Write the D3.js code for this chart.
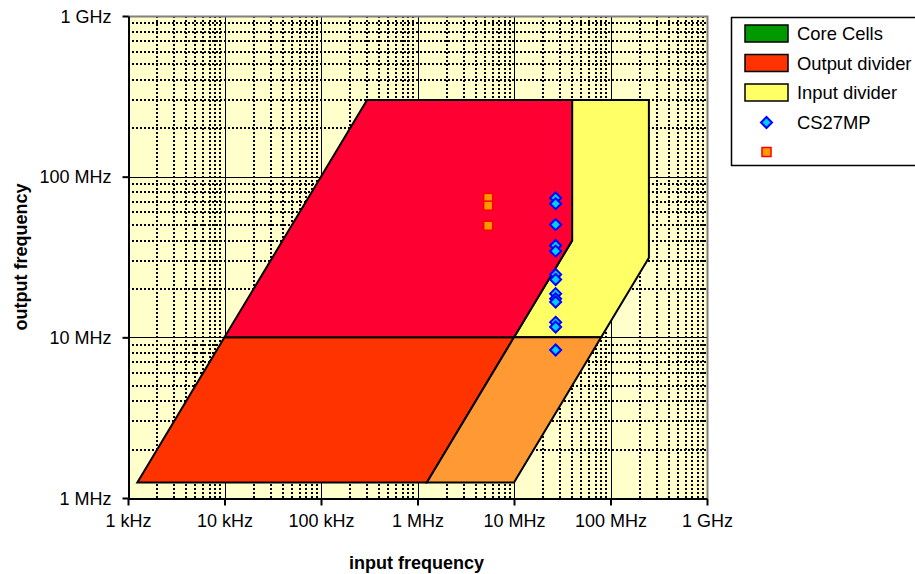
<!DOCTYPE html>
<html>
<head>
<meta charset="utf-8">
<script src="https://cdn.jsdelivr.net/npm/d3@7"></script>
<style>
  body { margin: 0; background: #fff; }
  text { font-family: "Liberation Sans", Arial, sans-serif; fill: #000; }
</style>
</head>
<body>
<svg id="chart" width="915" height="574"></svg>
<script>
// tick values and labels
var xTicks = [1e3, 1e4, 1e5, 1e6, 1e7, 1e8, 1e9];
var xTickLabels = ["1 kHz", "10 kHz", "100 kHz", "1 MHz", "10 MHz", "100 MHz", "1 GHz"];
var yTicks = [1e6, 1e7, 1e8, 1e9];
var yTickLabels = ["1 MHz", "10 MHz", "100 MHz", "1 GHz"];

// regions as [input frequency, output frequency] corners
var inputDivider = [[4e7, 3e8], [2.5e8, 3e8], [2.5e8, 3.125e7], [8e7, 1e7], [1e7, 1e7], [4e7, 4e7]];
var outputDivider = [[1.25e3, 1.25e6], [1e4, 1e7], [1e7, 1e7], [1.25e6, 1.25e6]];
var bothDividers = [[1e7, 1e7], [8e7, 1e7], [1e7, 1.25e6], [1.25e6, 1.25e6]];
var coreCells = [[1e4, 1e7], [3e5, 3e8], [4e7, 3e8], [4e7, 4e7], [1e7, 1e7]];

// CS27MP measured points
var cs27Input = 27e6;
var cs27Output = [73.7e6, 67.9e6, 50.3e6, 37.3e6, 34.4e6, 24.6e6, 22.9e6, 18.7e6, 17.4e6, 16.6e6, 12.4e6, 11.6e6, 8.34e6];
// second (unnamed) series
var otherInput = 5.4e6;
var otherOutput = [73.7e6, 66e6, 49.5e6];

var legendNames = ["Core Cells", "Output divider", "Input divider", "CS27MP", ""];

var plotLeft = 128, plotRight = 707, plotTop = 16, plotBottom = 498;

var svg = d3.select("#chart");

var x = d3.scaleLog().domain([1e3, 1e9]).range([plotLeft, plotRight]);
var y = d3.scaleLog().domain([1e6, 1e9]).range([plotBottom, plotTop]);

svg.append("rect")
  .attr("x", plotLeft)
  .attr("y", plotTop)
  .attr("width", plotRight - plotLeft)
  .attr("height", plotBottom - plotTop)
  .style("fill", "#ffffcc");

// minor grid (dotted)
var xMinor = x.ticks().filter(function(d) { return xTicks.indexOf(d) < 0; });
var yMinor = y.ticks().filter(function(d) { return yTicks.indexOf(d) < 0; });

svg.selectAll(".xminor")
  .data(xMinor)
  .enter().append("line")
  .attr("x1", function(d) { return Math.round(x(d)); })
  .attr("x2", function(d) { return Math.round(x(d)); })
  .attr("y1", plotTop)
  .attr("y2", plotBottom)
  .attr("stroke", "#000")
  .attr("stroke-width", 2)
  .attr("stroke-dasharray", "2,2");

svg.selectAll(".yminor")
  .data(yMinor)
  .enter().append("line")
  .attr("y1", function(d) { return Math.round(y(d)); })
  .attr("y2", function(d) { return Math.round(y(d)); })
  .attr("x1", plotLeft)
  .attr("x2", plotRight)
  .attr("stroke", "#000")
  .attr("stroke-width", 2)
  .attr("stroke-dasharray", "2,2");

// major grid
svg.selectAll(".xmajor")
  .data(xTicks.slice(1, -1))
  .enter().append("line")
  .attr("x1", function(d) { return Math.round(x(d)) + 0.5; })
  .attr("x2", function(d) { return Math.round(x(d)) + 0.5; })
  .attr("y1", plotTop)
  .attr("y2", plotBottom)
  .attr("stroke", "#000");

svg.selectAll(".ymajor")
  .data(yTicks.slice(1, -1))
  .enter().append("line")
  .attr("y1", function(d) { return Math.round(y(d)) + 0.5; })
  .attr("y2", function(d) { return Math.round(y(d)) + 0.5; })
  .attr("x1", plotLeft)
  .attr("x2", plotRight)
  .attr("stroke", "#000");

// plot border (top and right are grey)
svg.append("path")
  .attr("d", "M" + plotLeft + "," + (plotTop + 0.5) + "H" + (plotRight + 0.5) + "V" + plotBottom)
  .attr("fill", "none")
  .attr("stroke", "#808080")
  .attr("stroke-width", 2);

// regions
var line = d3.line()
  .x(function(d) { return x(d[0]); })
  .y(function(d) { return y(d[1]); })
  .curve(d3.curveLinearClosed);

var regions = [
  { pts: inputDivider, color: "#ffff66" },
  { pts: outputDivider, color: "#ff3300" },
  { pts: bothDividers, color: "#ff9933" },
  { pts: coreCells, color: "#ff0033" }
];

svg.selectAll(".region")
  .data(regions)
  .enter().append("path")
  .attr("d", function(d) { return line(d.pts); })
  .attr("fill", function(d) { return d.color; })
  .attr("stroke", "#000")
  .attr("stroke-width", 2)
  .attr("stroke-linejoin", "miter");

// axes
var xAxis = svg.append("g")
  .attr("transform", "translate(0," + (plotBottom + 0.5) + ")")
  .call(d3.axisBottom(x).tickValues(xTicks).tickSizeInner(7).tickSizeOuter(0)
    .tickFormat(function(d, i) { return xTickLabels[i]; }));

var yAxis = svg.append("g")
  .attr("transform", "translate(" + (plotLeft + 0.5) + ",0)")
  .call(d3.axisLeft(y).tickValues(yTicks).tickSizeInner(6).tickSizeOuter(0)
    .tickFormat(function(d, i) { return yTickLabels[i]; }));

[xAxis, yAxis].forEach(function(g) {
  g.select(".domain").attr("stroke", "#000").attr("stroke-width", 2);
  g.selectAll(".tick line").attr("stroke", "#000").attr("stroke-width", 2);
  g.selectAll(".tick text")
    .style("font-family", "'Liberation Sans', Arial, sans-serif")
    .style("font-size", "18px")
    .attr("fill", "#000");
});
xAxis.selectAll(".tick text").attr("y", 16).attr("dy", "0.71em");
yAxis.selectAll(".tick text").attr("x", -17).attr("dy", "0.35em");

// points
svg.selectAll(".other")
  .data(otherOutput)
  .enter().append("rect")
  .attr("x", x(otherInput) - 4.5)
  .attr("y", function(d) { return y(d) - 4.5; })
  .attr("width", 9)
  .attr("height", 9)
  .attr("fill", "#ff9900")
  .attr("stroke", "#ff0000")
  .attr("stroke-width", 1.5);

var diamond = "M0,-5.5L5.5,0L0,5.5L-5.5,0Z";
svg.selectAll(".cs27")
  .data(cs27Output)
  .enter().append("path")
  .attr("d", diamond)
  .attr("transform", function(d) { return "translate(" + x(cs27Input) + "," + y(d) + ")"; })
  .attr("fill", "#00ccff")
  .attr("stroke", "#0000ff")
  .attr("stroke-width", 2);

// axis titles
svg.append("text")
  .attr("x", (plotLeft + plotRight) / 2 - 1)
  .attr("y", 569)
  .attr("text-anchor", "middle")
  .style("font-size", "18px")
  .style("font-weight", "bold")
  .text("input frequency");

svg.append("text")
  .attr("transform", "translate(27," + ((plotTop + plotBottom) / 2) + ") rotate(-90)")
  .attr("text-anchor", "middle")
  .style("font-size", "18px")
  .style("font-weight", "bold")
  .text("output frequency");

// legend
var legend = svg.append("g");
legend.append("rect")
  .attr("x", 731.5)
  .attr("y", 17.5)
  .attr("width", 200)
  .attr("height", 148)
  .attr("fill", "#fff")
  .attr("stroke", "#000")
  .attr("stroke-width", 1.5);

var legendColors = ["#009900", "#ff3300", "#ffff66"];
var rowY = function(i) { return 34 + i * 29.5; };

legend.selectAll(".swatch")
  .data(legendColors)
  .enter().append("rect")
  .attr("x", 745)
  .attr("y", function(d, i) { return rowY(i) - 9; })
  .attr("width", 43)
  .attr("height", 17)
  .attr("fill", function(d) { return d; })
  .attr("stroke", "#000")
  .attr("stroke-width", 1.5);

legend.append("path")
  .attr("d", diamond)
  .attr("transform", "translate(766.5," + rowY(3) + ")")
  .attr("fill", "#00ccff")
  .attr("stroke", "#0000ff")
  .attr("stroke-width", 2);

legend.append("rect")
  .attr("x", 762)
  .attr("y", rowY(4) - 4.5)
  .attr("width", 9)
  .attr("height", 9)
  .attr("fill", "#ff9900")
  .attr("stroke", "#ff0000")
  .attr("stroke-width", 1.5);

legend.selectAll(".ltext")
  .data(legendNames)
  .enter().append("text")
  .attr("x", 797)
  .attr("y", function(d, i) { return rowY(i); })
  .attr("dy", "0.35em")
  .style("font-size", "18.4px")
  .text(function(d) { return d; });
</script>
</body>
</html>
